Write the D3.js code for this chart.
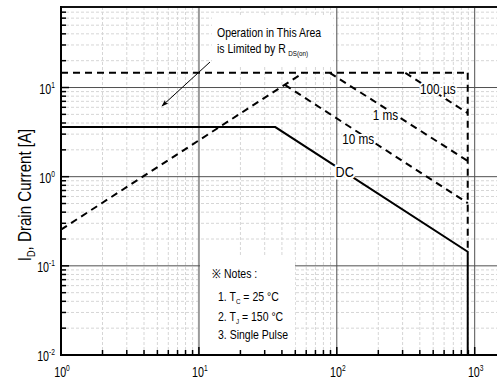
<!DOCTYPE html>
<html>
<head>
<meta charset="utf-8">
<script src="https://cdn.jsdelivr.net/npm/d3@7"></script>
<style>
  html, body { margin: 0; padding: 0; background: #fff; }
  svg { display: block; }
  text { font-family: "Liberation Sans", Arial, sans-serif; fill: #000; }
</style>
</head>
<body>
<svg id="chart" width="497" height="380"></svg>
<script>
// ---- data ----
const xDomain = [1, 2000];
const yDomain = [0.01, 80];
const xMajorTicks = [1, 10, 100, 1000];
const yMajorTicks = [0.01, 0.1, 1, 10];
const xTickExp = ["0", "1", "2", "3"];
const yTickExp = ["-2", "-1", "0", "1"];

// limit lines: [V_DS, I_D]
const rdsLimit  = [[1, 0.255], [57, 14.6]];
const idmLimit  = [[1, 14.6], [890, 14.6]];
const vdssLimit = [[890, 14.6], [890, 0.144]];
const pulse100us = [[314, 14.6], [890, 5.15]];
const pulse1ms   = [[89, 14.6], [890, 1.5]];
const pulse10ms  = [[42, 10.7], [890, 0.506]];
const dcLine     = [[1, 3.6], [35.8, 3.6], [890, 0.144], [890, 0.01]];

const curveLabels = [
  { text: "100 \u00b5s", v: 540, i: 8.4 },
  { text: "1 ms", v: 225, i: 4.3 },
  { text: "10 ms", v: 143, i: 2.35 },
];
const dcLabel = { text: "DC", v: 114, i: 0.98 };

const notes = ["\u203b Notes :", "1. T|C| = 25 \u00b0C", "2. T|J| = 150 \u00b0C", "3. Single Pulse"];

// ---- drawing ----
(function () {
const svg = d3.select("#chart");
const pLeft = 61, pTop = 7, pBottom = 355;
const decadeX = 137.9;
const SX = 0.84; // narrow-font horizontal squeeze
const x = d3.scaleLog().domain(xDomain).range([pLeft, pLeft + Math.log10(xDomain[1] / xDomain[0]) * decadeX]);
const y = d3.scaleLog().domain(yDomain).range([pBottom, pTop]);
const pRight = x.range()[1];

function place(sel, tx, ty, sx) {
  return sel.attr("transform", `translate(${tx},${ty}) scale(${sx},1)`);
}

function minorVals(domain) {
  const out = [];
  const lo = Math.floor(Math.log10(domain[0])), hi = Math.ceil(Math.log10(domain[1]));
  for (let e = lo; e < hi; e++) for (let k = 2; k <= 9; k++) {
    const v = k * Math.pow(10, e);
    if (v > domain[0] && v < domain[1]) out.push(v);
  }
  return out;
}
const xMinor = minorVals(xDomain), yMinor = minorVals(yDomain);

const grid = svg.append("g");
grid.selectAll(".xm").data(xMinor).join("line")
  .attr("x1", d => x(d)).attr("x2", d => x(d)).attr("y1", pTop).attr("y2", pBottom)
  .attr("stroke", "#d6d6d6").attr("stroke-width", 1).attr("stroke-dasharray", "3,2");
grid.selectAll(".ym").data(yMinor).join("line")
  .attr("x1", pLeft).attr("x2", pRight).attr("y1", d => y(d)).attr("y2", d => y(d))
  .attr("stroke", "#d6d6d6").attr("stroke-width", 1).attr("stroke-dasharray", "3,2");
grid.selectAll(".xM").data(xMajorTicks.slice(1)).join("line")
  .attr("x1", d => x(d)).attr("x2", d => x(d)).attr("y1", pTop).attr("y2", pBottom)
  .attr("stroke", d => d === 10 ? "#9a9a9a" : "#505050").attr("stroke-width", d => d === 10 ? 2 : 1);
grid.selectAll(".yM").data(yMajorTicks.slice(1)).join("line")
  .attr("x1", pLeft).attr("x2", pRight).attr("y1", d => y(d)).attr("y2", d => y(d))
  .attr("stroke", "#505050").attr("stroke-width", 1);

// white annotation boxes
svg.append("rect").attr("x", 212).attr("y", 16).attr("width", 121).attr("height", 50).attr("fill", "#fff");
svg.append("rect").attr("x", 200).attr("y", 256).attr("width", 95).attr("height", 94).attr("fill", "#fff");

// axes frame
svg.append("line").attr("x1", pLeft).attr("x2", pRight).attr("y1", pTop).attr("y2", pTop).attr("stroke", "#111").attr("stroke-width", 2);
svg.append("line").attr("x1", pRight).attr("x2", pRight).attr("y1", pTop).attr("y2", pBottom).attr("stroke", "#111").attr("stroke-width", 2);
svg.append("line").attr("x1", pLeft).attr("x2", pLeft).attr("y1", pTop - 1).attr("y2", pBottom + 1).attr("stroke", "#000").attr("stroke-width", 2);
svg.append("line").attr("x1", pLeft - 1).attr("x2", pRight).attr("y1", pBottom).attr("y2", pBottom).attr("stroke", "#000").attr("stroke-width", 2);

// inward ticks
svg.append("g").selectAll("line").data(xMinor).join("line")
  .attr("x1", d => x(d)).attr("x2", d => x(d)).attr("y1", pBottom).attr("y2", pBottom - 5)
  .attr("stroke", "#000").attr("stroke-width", 1.5);
svg.append("g").selectAll("line").data(yMinor).join("line")
  .attr("x1", pLeft).attr("x2", pLeft + 5).attr("y1", d => y(d)).attr("y2", d => y(d))
  .attr("stroke", "#000").attr("stroke-width", 1.5);
svg.append("g").selectAll("line").data(xMajorTicks).join("line")
  .attr("x1", d => x(d)).attr("x2", d => x(d)).attr("y1", pBottom).attr("y2", pBottom - 8)
  .attr("stroke", "#000").attr("stroke-width", 1.5);
svg.append("g").selectAll("line").data(yMajorTicks).join("line")
  .attr("x1", pLeft).attr("x2", pLeft + 8).attr("y1", d => y(d)).attr("y2", d => y(d))
  .attr("stroke", "#000").attr("stroke-width", 1.5);

// tick labels
const xl = svg.append("g").selectAll("text").data(xMajorTicks).join("text")
  .attr("transform", d => `translate(${x(d) + 1},377) scale(0.74,1)`)
  .attr("text-anchor", "middle").attr("font-size", 14.5);
xl.append("tspan").text("10");
xl.append("tspan").attr("dy", -6).attr("font-size", 9).text((d, i) => xTickExp[i]);
const yl = svg.append("g").selectAll("text").data(yMajorTicks).join("text")
  .attr("transform", d => `translate(55,${y(d) + 6}) scale(0.74,1)`)
  .attr("text-anchor", "end").attr("font-size", 14.5);
yl.append("tspan").text("10");
yl.append("tspan").attr("dy", -6).attr("font-size", 9).text((d, i) => yTickExp[i]);

// y-axis title
const yt = svg.append("text").attr("transform", `translate(31,195) rotate(-90) scale(${SX},1)`)
  .attr("text-anchor", "middle").attr("font-size", 18);
yt.append("tspan").text("I");
yt.append("tspan").attr("font-size", 11).attr("dy", 4).text("D");
yt.append("tspan").attr("dy", -4).text(", Drain Current [A]");

// curves
const line = d3.line().x(d => x(d[0])).y(d => y(d[1]));
const dashed = [rdsLimit, idmLimit, vdssLimit, pulse100us, pulse1ms, pulse10ms];
svg.append("g").selectAll("path").data(dashed).join("path")
  .attr("d", line).attr("fill", "none").attr("stroke", "#000").attr("stroke-width", 2)
  .attr("stroke-dasharray", "7,5");
svg.append("path").attr("d", line(dcLine)).attr("fill", "none").attr("stroke", "#000").attr("stroke-width", 2);

// curve labels
svg.append("g").selectAll("text").data(curveLabels).join("text")
  .attr("transform", d => `translate(${x(d.v)},${y(d.i)}) scale(${SX},1)`)
  .attr("text-anchor", "middle").attr("font-size", 14)
  .attr("stroke", "#fff").attr("stroke-width", 4).attr("paint-order", "stroke").attr("stroke-linejoin", "round")
  .text(d => d.text);
svg.append("text").attr("transform", `translate(${x(dcLabel.v)},${y(dcLabel.i)}) scale(${SX},1)`)
  .attr("text-anchor", "middle").attr("font-size", 15)
  .attr("stroke", "#fff").attr("stroke-width", 5).attr("paint-order", "stroke").attr("stroke-linejoin", "round")
  .text(dcLabel.text);

// annotation
place(svg.append("text"), 217, 37, SX).attr("font-size", 12.5).text("Operation in This Area");
const a2 = place(svg.append("text"), 217, 53, SX).attr("font-size", 12.5);
a2.append("tspan").text("is Limited by R");
a2.append("tspan").attr("dx", 3).attr("dy", 3).attr("font-size", 7.5).text("DS(on)");
svg.append("defs").append("marker").attr("id", "ah").attr("viewBox", "0 0 10 10")
  .attr("refX", 9).attr("refY", 5).attr("markerWidth", 9).attr("markerHeight", 7).attr("orient", "auto")
  .append("path").attr("d", "M0,1.5 L10,5 L0,8.5 L2,5 Z").attr("fill", "#000");
svg.append("line").attr("x1", 210).attr("y1", 62).attr("x2", 162).attr("y2", 106)
  .attr("stroke", "#000").attr("stroke-width", 1).attr("marker-end", "url(#ah)");

// notes
const noteY = [278, 301, 321, 339];
const noteX = [212, 218, 218, 218];
notes.forEach((n, i) => {
  const t = place(svg.append("text"), noteX[i], noteY[i], SX).attr("font-size", 12.5);
  const parts = n.split("|");
  parts.forEach((p, j) => {
    if (j === 1) t.append("tspan").attr("dy", 3).attr("font-size", 7.5).text(p);
    else if (j === 2) t.append("tspan").attr("dy", -3).text(p);
    else t.append("tspan").text(p);
  });
});
})();
</script>
</body>
</html>
